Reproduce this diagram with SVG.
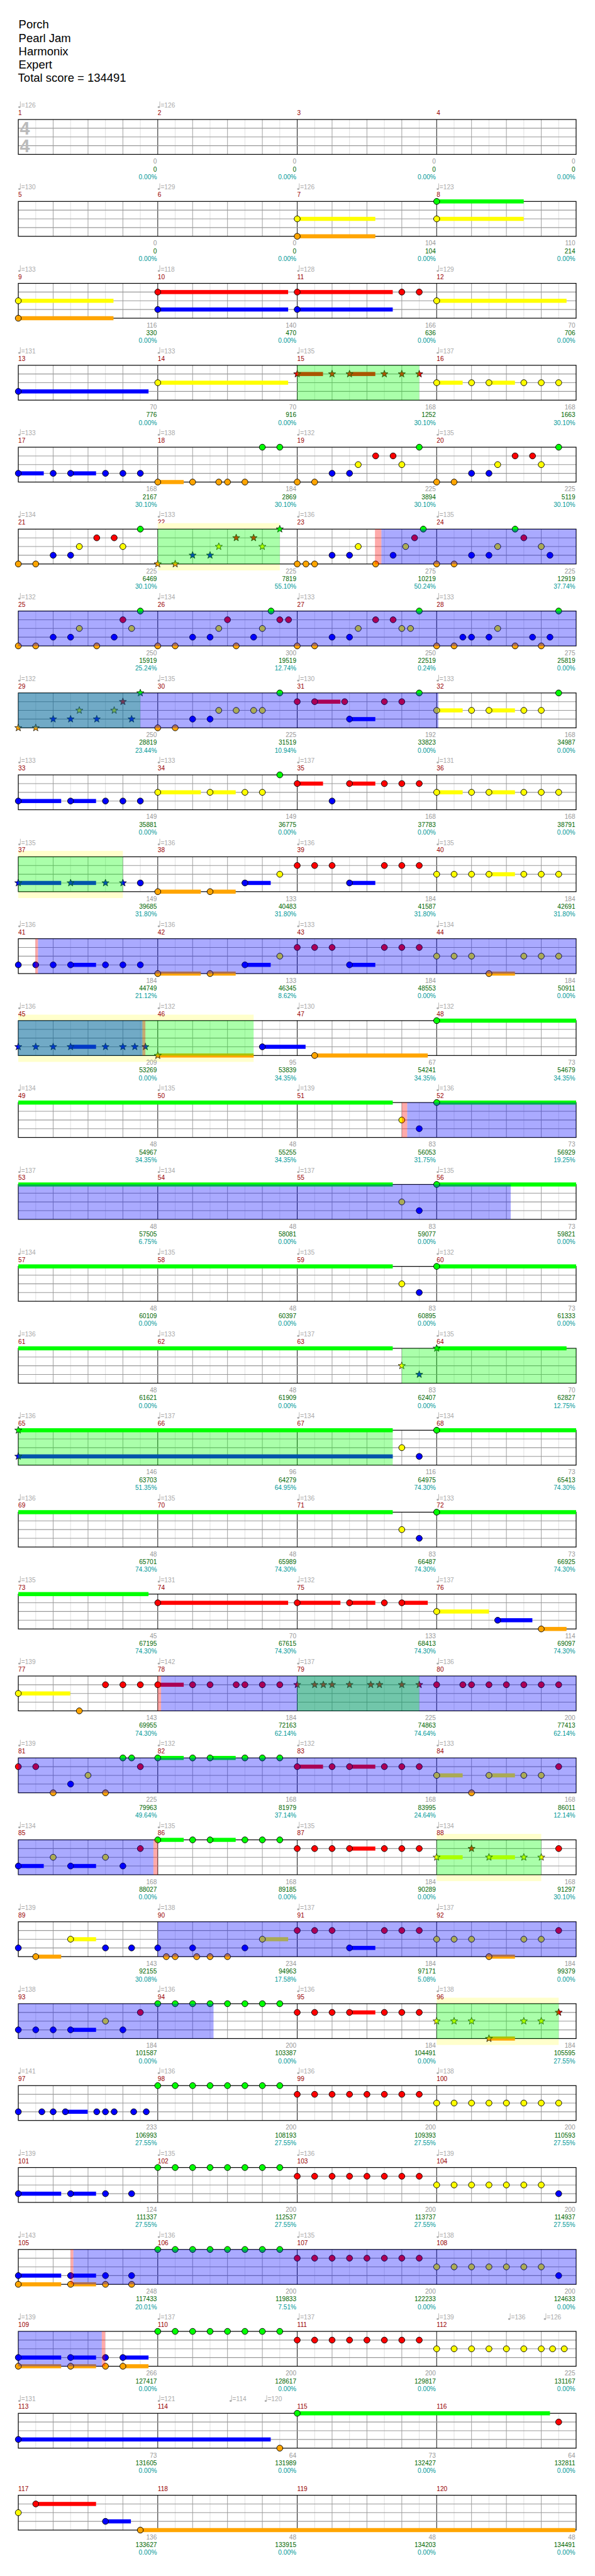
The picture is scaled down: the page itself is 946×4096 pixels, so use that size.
<svg xmlns="http://www.w3.org/2000/svg" xmlns:xlink="http://www.w3.org/1999/xlink" width="946" height="4096" viewBox="0 0 946 4096">
<style>
text{font-family:"Liberation Sans",Arial,sans-serif}
.h{font-size:20px;fill:#000}
.l text{font-size:11px}
.mn{fill:#900}
.tp{fill:#aaa}
.s{fill:#999;text-anchor:end}
.c{fill:#060;text-anchor:end}
.p{fill:#099;text-anchor:end}
circle{stroke:#000;stroke-width:1}
.st{stroke:#000;stroke-width:.8}
.G{fill:#0f0}.R{fill:#f00}.Y{fill:#ff0}.B{fill:#00f}.O{fill:#ffa500}
.ob{fill:#00f;fill-opacity:.333}.og{fill:#0f0;fill-opacity:.333}.or{fill:#f00;fill-opacity:.333}.fy{fill:#ffc}
</style>
<defs>
<g id="staff">
<rect width="960" height="60" fill="#fff"/>
<path d="M30 0V60M90 0V60M150 0V60M210 0V60M270 0V60M330 0V60M390 0V60M450 0V60M510 0V60M570 0V60M630 0V60M690 0V60M750 0V60M810 0V60M870 0V60M930 0V60" stroke="#ddd" stroke-width="1"/>
<path d="M60 0V60M120 0V60M180 0V60M300 0V60M360 0V60M420 0V60M540 0V60M600 0V60M660 0V60M780 0V60M840 0V60M900 0V60" stroke="#999" stroke-width="1"/>
<path d="M240 0V60M480 0V60M720 0V60" stroke="#000" stroke-width="1"/>
<path d="M0 15H960M0 30H960M0 45H960" stroke="#999" stroke-width="1.2"/>
<rect width="960" height="60" fill="none" stroke="#000" stroke-width="1.3"/>
</g>
<g id="tq"><ellipse cx="1.8" cy="-21.3" rx="1.9" ry="1.6" fill="#aaa"/><path d="M3.5 -21.5V-31" stroke="#aaa" stroke-width="0.9"/></g>
<polygon id="st" points="0,-6.5 1.59,-2.18 6.18,-2.01 2.57,0.83 3.82,5.26 0,2.7 -3.82,5.26 -2.57,0.83 -6.18,-2.01 -1.59,-2.18"/>
</defs>
<rect width="946" height="4096" fill="#fff"/>
<g transform="scale(0.92383)">
<g id="title" class="h">
<text class="h" x="32" y="49">Porch</text>
<text class="h" x="32" y="72">Pearl Jam</text>
<text class="h" x="32" y="95">Harmonix</text>
<text class="h" x="32" y="118">Expert</text>
<text class="h" x="31" y="141">Total score = 134491</text>
</g>

<g id="r1" transform="translate(31.5,205.7)">
<g class="l"><text class="mn" x="0" y="-7.6">1</text><text class="mn" x="240" y="-7.6">2</text><text class="mn" x="480" y="-7.6">3</text><text class="mn" x="720" y="-7.6">4</text>
<use href="#tq" x="0"/><text class="tp" x="5" y="-20.4">=126</text><use href="#tq" x="240"/><text class="tp" x="245" y="-20.4">=126</text>
<text class="s" x="238.5" y="76">0</text><text class="c" x="238.5" y="89.3">0</text><text class="p" x="238.5" y="102.6">0.00%</text>
<text class="s" x="478.5" y="76">0</text><text class="c" x="478.5" y="89.3">0</text><text class="p" x="478.5" y="102.6">0.00%</text>
<text class="s" x="718.5" y="76">0</text><text class="c" x="718.5" y="89.3">0</text><text class="p" x="718.5" y="102.6">0.00%</text>
<text class="s" x="958.5" y="76">0</text><text class="c" x="958.5" y="89.3">0</text><text class="p" x="958.5" y="102.6">0.00%</text></g>
<use href="#staff"/>
<text x="2.5" y="26" font-size="31" font-weight="bold" fill="#bbb">4</text><text x="2.5" y="56.6" font-size="31" font-weight="bold" fill="#bbb">4</text>
</g>

<g id="r2" transform="translate(31.5,346.7)">
<g class="l"><text class="mn" x="0" y="-7.6">5</text><text class="mn" x="240" y="-7.6">6</text><text class="mn" x="480" y="-7.6">7</text><text class="mn" x="720" y="-7.6">8</text>
<use href="#tq" x="0"/><text class="tp" x="5" y="-20.4">=130</text><use href="#tq" x="240"/><text class="tp" x="245" y="-20.4">=129</text><use href="#tq" x="480"/><text class="tp" x="485" y="-20.4">=126</text><use href="#tq" x="720"/><text class="tp" x="725" y="-20.4">=123</text>
<text class="s" x="238.5" y="76">0</text><text class="c" x="238.5" y="89.3">0</text><text class="p" x="238.5" y="102.6">0.00%</text>
<text class="s" x="478.5" y="76">0</text><text class="c" x="478.5" y="89.3">0</text><text class="p" x="478.5" y="102.6">0.00%</text>
<text class="s" x="718.5" y="76">104</text><text class="c" x="718.5" y="89.3">104</text><text class="p" x="718.5" y="102.6">0.00%</text>
<text class="s" x="958.5" y="76">110</text><text class="c" x="958.5" y="89.3">214</text><text class="p" x="958.5" y="102.6">0.00%</text></g>
<use href="#staff"/>
<rect class="G" x="720" y="-3.5" width="149.8" height="7"/><rect class="Y" x="480" y="26.5" width="134.4" height="7"/><rect class="Y" x="720" y="26.5" width="149.8" height="7"/><rect class="O" x="480" y="56.5" width="134.4" height="7"/>
<circle class="G" cx="720" cy="0" r="5.2"/><circle class="Y" cx="480" cy="30" r="5.2"/><circle class="Y" cx="720" cy="30" r="5.2"/><circle class="O" cx="480" cy="60" r="5.2"/>
</g>

<g id="r3" transform="translate(31.5,487.7)">
<g class="l"><text class="mn" x="0" y="-7.6">9</text><text class="mn" x="240" y="-7.6">10</text><text class="mn" x="480" y="-7.6">11</text><text class="mn" x="720" y="-7.6">12</text>
<use href="#tq" x="0"/><text class="tp" x="5" y="-20.4">=133</text><use href="#tq" x="240"/><text class="tp" x="245" y="-20.4">=118</text><use href="#tq" x="480"/><text class="tp" x="485" y="-20.4">=128</text><use href="#tq" x="720"/><text class="tp" x="725" y="-20.4">=129</text>
<text class="s" x="238.5" y="76">116</text><text class="c" x="238.5" y="89.3">330</text><text class="p" x="238.5" y="102.6">0.00%</text>
<text class="s" x="478.5" y="76">140</text><text class="c" x="478.5" y="89.3">470</text><text class="p" x="478.5" y="102.6">0.00%</text>
<text class="s" x="718.5" y="76">166</text><text class="c" x="718.5" y="89.3">636</text><text class="p" x="718.5" y="102.6">0.00%</text>
<text class="s" x="958.5" y="76">70</text><text class="c" x="958.5" y="89.3">706</text><text class="p" x="958.5" y="102.6">0.00%</text></g>
<use href="#staff"/>
<rect class="Y" x="0" y="26.5" width="163.8" height="7"/><rect class="O" x="0" y="56.5" width="163.8" height="7"/><rect class="R" x="240" y="11.5" width="224.4" height="7"/><rect class="B" x="240" y="41.5" width="224.4" height="7"/><rect class="R" x="480" y="11.5" width="164.4" height="7"/><rect class="B" x="480" y="41.5" width="164.4" height="7"/><rect class="Y" x="720" y="26.5" width="223.5" height="7"/>
<circle class="Y" cx="0" cy="30" r="5.2"/><circle class="O" cx="0" cy="60" r="5.2"/><circle class="R" cx="240" cy="15" r="5.2"/><circle class="B" cx="240" cy="45" r="5.2"/><circle class="R" cx="480" cy="15" r="5.2"/><circle class="B" cx="480" cy="45" r="5.2"/><circle class="R" cx="660" cy="15" r="5.2"/><circle class="R" cx="690" cy="15" r="5.2"/><circle class="Y" cx="720" cy="30" r="5.2"/>
</g>

<g id="r4" transform="translate(31.5,628.7)">
<g class="l"><text class="mn" x="0" y="-7.6">13</text><text class="mn" x="240" y="-7.6">14</text><text class="mn" x="480" y="-7.6">15</text><text class="mn" x="720" y="-7.6">16</text>
<use href="#tq" x="0"/><text class="tp" x="5" y="-20.4">=131</text><use href="#tq" x="240"/><text class="tp" x="245" y="-20.4">=133</text><use href="#tq" x="480"/><text class="tp" x="485" y="-20.4">=135</text><use href="#tq" x="720"/><text class="tp" x="725" y="-20.4">=137</text>
<text class="s" x="238.5" y="76">70</text><text class="c" x="238.5" y="89.3">776</text><text class="p" x="238.5" y="102.6">0.00%</text>
<text class="s" x="478.5" y="76">70</text><text class="c" x="478.5" y="89.3">916</text><text class="p" x="478.5" y="102.6">0.00%</text>
<text class="s" x="718.5" y="76">168</text><text class="c" x="718.5" y="89.3">1252</text><text class="p" x="718.5" y="102.6">30.10%</text>
<text class="s" x="958.5" y="76">168</text><text class="c" x="958.5" y="89.3">1663</text><text class="p" x="958.5" y="102.6">30.10%</text></g>
<use href="#staff"/>
<rect class="B" x="0" y="41.5" width="224.1" height="7"/><rect class="Y" x="240" y="26.5" width="224.4" height="7"/><rect class="R" x="480" y="11.5" width="44.4" height="7"/><rect class="R" x="570" y="11.5" width="44.4" height="7"/><rect class="Y" x="720" y="26.5" width="44.7" height="7"/><rect class="Y" x="810" y="26.5" width="44.7" height="7"/>
<circle class="B" cx="0" cy="45" r="5.2"/><circle class="Y" cx="240" cy="30" r="5.2"/>
<use href="#st" class="st R" x="480" y="15"/><use href="#st" class="st R" x="540" y="15"/><use href="#st" class="st R" x="570" y="15"/><use href="#st" class="st R" x="630" y="15"/><use href="#st" class="st R" x="660" y="15"/><use href="#st" class="st R" x="690" y="15"/>
<circle class="Y" cx="720" cy="30" r="5.2"/><circle class="Y" cx="780" cy="30" r="5.2"/><circle class="Y" cx="810" cy="30" r="5.2"/><circle class="Y" cx="870" cy="30" r="5.2"/><circle class="Y" cx="900" cy="30" r="5.2"/><circle class="Y" cx="930" cy="30" r="5.2"/>
<rect class="og" x="480" y="0" width="210" height="60"/>
</g>

<g id="r5" transform="translate(31.5,769.7)">
<g class="l"><text class="mn" x="0" y="-7.6">17</text><text class="mn" x="240" y="-7.6">18</text><text class="mn" x="480" y="-7.6">19</text><text class="mn" x="720" y="-7.6">20</text>
<use href="#tq" x="0"/><text class="tp" x="5" y="-20.4">=133</text><use href="#tq" x="240"/><text class="tp" x="245" y="-20.4">=138</text><use href="#tq" x="480"/><text class="tp" x="485" y="-20.4">=132</text><use href="#tq" x="720"/><text class="tp" x="725" y="-20.4">=135</text>
<text class="s" x="238.5" y="76">168</text><text class="c" x="238.5" y="89.3">2167</text><text class="p" x="238.5" y="102.6">30.10%</text>
<text class="s" x="478.5" y="76">184</text><text class="c" x="478.5" y="89.3">2869</text><text class="p" x="478.5" y="102.6">30.10%</text>
<text class="s" x="718.5" y="76">225</text><text class="c" x="718.5" y="89.3">3894</text><text class="p" x="718.5" y="102.6">30.10%</text>
<text class="s" x="958.5" y="76">225</text><text class="c" x="958.5" y="89.3">5119</text><text class="p" x="958.5" y="102.6">30.10%</text></g>
<use href="#staff"/>
<rect class="B" x="0" y="41.5" width="43.8" height="7"/><rect class="B" x="90" y="41.5" width="43.8" height="7"/><rect class="O" x="240" y="56.5" width="44.7" height="7"/>
<circle class="B" cx="0" cy="45" r="5.2"/><circle class="B" cx="60" cy="45" r="5.2"/><circle class="B" cx="90" cy="45" r="5.2"/><circle class="B" cx="150" cy="45" r="5.2"/><circle class="B" cx="180" cy="45" r="5.2"/><circle class="B" cx="210" cy="45" r="5.2"/>
<circle class="O" cx="240" cy="60" r="5.2"/><circle class="O" cx="300" cy="60" r="5.2"/><circle class="O" cx="345" cy="60" r="5.2"/><circle class="O" cx="360" cy="60" r="5.2"/><circle class="O" cx="390" cy="60" r="5.2"/><circle class="G" cx="420" cy="0" r="5.2"/><circle class="G" cx="450" cy="0" r="5.2"/>
<circle class="O" cx="480" cy="60" r="5.2"/><circle class="O" cx="510" cy="60" r="5.2"/><circle class="B" cx="540" cy="45" r="5.2"/><circle class="B" cx="570" cy="45" r="5.2"/><circle class="Y" cx="585" cy="30" r="5.2"/><circle class="R" cx="615" cy="15" r="5.2"/><circle class="R" cx="645" cy="15" r="5.2"/><circle class="Y" cx="660" cy="30" r="5.2"/><circle class="G" cx="690" cy="0" r="5.2"/>
<circle class="O" cx="720" cy="60" r="5.2"/><circle class="O" cx="750" cy="60" r="5.2"/><circle class="B" cx="780" cy="45" r="5.2"/><circle class="B" cx="810" cy="45" r="5.2"/><circle class="Y" cx="825" cy="30" r="5.2"/><circle class="R" cx="855" cy="15" r="5.2"/><circle class="R" cx="885" cy="15" r="5.2"/><circle class="Y" cx="900" cy="30" r="5.2"/><circle class="G" cx="930" cy="0" r="5.2"/>
</g>

<g id="r6" transform="translate(31.5,910.7)">
<g class="l"><text class="mn" x="0" y="-7.6">21</text><text class="mn" x="240" y="-7.6">22</text><text class="mn" x="480" y="-7.6">23</text><text class="mn" x="720" y="-7.6">24</text>
<use href="#tq" x="0"/><text class="tp" x="5" y="-20.4">=134</text><use href="#tq" x="240"/><text class="tp" x="245" y="-20.4">=133</text><use href="#tq" x="480"/><text class="tp" x="485" y="-20.4">=136</text><use href="#tq" x="720"/><text class="tp" x="725" y="-20.4">=135</text></g>
<rect class="fy" x="240" y="-10.3" width="210" height="81.3"/>
<g class="l">
<text class="s" x="238.5" y="76">225</text><text class="c" x="238.5" y="89.3">6469</text><text class="p" x="238.5" y="102.6">30.10%</text>
<text class="s" x="478.5" y="76">225</text><text class="c" x="478.5" y="89.3">7819</text><text class="p" x="478.5" y="102.6">55.10%</text>
<text class="s" x="718.5" y="76">275</text><text class="c" x="718.5" y="89.3">10219</text><text class="p" x="718.5" y="102.6">50.24%</text>
<text class="s" x="958.5" y="76">225</text><text class="c" x="958.5" y="89.3">12919</text><text class="p" x="958.5" y="102.6">37.74%</text></g>
<use href="#staff"/>
<circle class="O" cx="0" cy="60" r="5.2"/><circle class="O" cx="30" cy="60" r="5.2"/><circle class="B" cx="60" cy="45" r="5.2"/><circle class="B" cx="90" cy="45" r="5.2"/><circle class="Y" cx="105" cy="30" r="5.2"/><circle class="R" cx="135" cy="15" r="5.2"/><circle class="R" cx="165" cy="15" r="5.2"/><circle class="Y" cx="180" cy="30" r="5.2"/><circle class="G" cx="210" cy="0" r="5.2"/>
<use href="#st" class="st O" x="240" y="60"/><use href="#st" class="st O" x="270" y="60"/><use href="#st" class="st B" x="300" y="45"/><use href="#st" class="st B" x="330" y="45"/><use href="#st" class="st Y" x="345" y="30"/><use href="#st" class="st R" x="375" y="15"/><use href="#st" class="st R" x="405" y="15"/><use href="#st" class="st Y" x="420" y="30"/><use href="#st" class="st G" x="450" y="0"/>
<circle class="O" cx="480" cy="60" r="5.2"/><circle class="O" cx="495" cy="60" r="5.2"/><circle class="O" cx="510" cy="60" r="5.2"/><circle class="B" cx="540" cy="45" r="5.2"/><circle class="B" cx="570" cy="45" r="5.2"/><circle class="Y" cx="585" cy="30" r="5.2"/><circle class="O" cx="615" cy="60" r="5.2"/>
<circle class="B" cx="645" cy="45" r="5.2"/><circle class="Y" cx="666.6" cy="30" r="5.2"/><circle class="R" cx="682" cy="15" r="5.2"/><circle class="G" cx="697" cy="0" r="5.2"/>
<circle class="O" cx="720" cy="60" r="5.2"/><circle class="O" cx="750" cy="60" r="5.2"/><circle class="B" cx="780" cy="45" r="5.2"/><circle class="B" cx="810" cy="45" r="5.2"/><circle class="Y" cx="825" cy="30" r="5.2"/><circle class="G" cx="855" cy="0" r="5.2"/><circle class="R" cx="870" cy="15" r="5.2"/><circle class="Y" cx="900" cy="30" r="5.2"/><circle class="B" cx="915" cy="45" r="5.2"/>
<rect class="og" x="240" y="0" width="210" height="60"/><rect class="or" x="613.8" y="0" width="11.1" height="60"/><rect class="ob" x="624.9" y="0" width="335.1" height="60"/>
</g>

<g id="r7" transform="translate(31.5,1051.7)">
<g class="l"><text class="mn" x="0" y="-7.6">25</text><text class="mn" x="240" y="-7.6">26</text><text class="mn" x="480" y="-7.6">27</text><text class="mn" x="720" y="-7.6">28</text>
<use href="#tq" x="0"/><text class="tp" x="5" y="-20.4">=132</text><use href="#tq" x="240"/><text class="tp" x="245" y="-20.4">=134</text><use href="#tq" x="480"/><text class="tp" x="485" y="-20.4">=133</text><use href="#tq" x="720"/><text class="tp" x="725" y="-20.4">=133</text>
<text class="s" x="238.5" y="76">250</text><text class="c" x="238.5" y="89.3">15919</text><text class="p" x="238.5" y="102.6">25.24%</text>
<text class="s" x="478.5" y="76">300</text><text class="c" x="478.5" y="89.3">19519</text><text class="p" x="478.5" y="102.6">12.74%</text>
<text class="s" x="718.5" y="76">250</text><text class="c" x="718.5" y="89.3">22519</text><text class="p" x="718.5" y="102.6">0.24%</text>
<text class="s" x="958.5" y="76">275</text><text class="c" x="958.5" y="89.3">25819</text><text class="p" x="958.5" y="102.6">0.00%</text></g>
<use href="#staff"/>
<circle class="O" cx="0" cy="60" r="5.2"/><circle class="O" cx="30" cy="60" r="5.2"/><circle class="B" cx="60" cy="45" r="5.2"/><circle class="B" cx="90" cy="45" r="5.2"/><circle class="Y" cx="105" cy="30" r="5.2"/><circle class="O" cx="135" cy="60" r="5.2"/><circle class="B" cx="165" cy="45" r="5.2"/><circle class="R" cx="180" cy="15" r="5.2"/><circle class="Y" cx="195" cy="30" r="5.2"/><circle class="G" cx="210" cy="0" r="5.2"/>
<circle class="O" cx="240" cy="60" r="5.2"/><circle class="O" cx="270" cy="60" r="5.2"/><circle class="B" cx="300" cy="45" r="5.2"/><circle class="B" cx="330" cy="45" r="5.2"/><circle class="Y" cx="345" cy="30" r="5.2"/><circle class="R" cx="360" cy="15" r="5.2"/><circle class="O" cx="375" cy="60" r="5.2"/><circle class="B" cx="405" cy="45" r="5.2"/><circle class="Y" cx="420" cy="30" r="5.2"/><circle class="G" cx="435" cy="0" r="5.2"/><circle class="R" cx="450" cy="15" r="5.2"/><circle class="R" cx="465" cy="15" r="5.2"/>
<circle class="O" cx="480" cy="60" r="5.2"/><circle class="O" cx="510" cy="60" r="5.2"/><circle class="B" cx="540" cy="45" r="5.2"/><circle class="B" cx="570" cy="45" r="5.2"/><circle class="Y" cx="585" cy="30" r="5.2"/><circle class="R" cx="615" cy="15" r="5.2"/><circle class="R" cx="645" cy="15" r="5.2"/><circle class="Y" cx="660" cy="30" r="5.2"/><circle class="Y" cx="675" cy="30" r="5.2"/><circle class="G" cx="690" cy="0" r="5.2"/>
<circle class="O" cx="720" cy="60" r="5.2"/><circle class="O" cx="750" cy="60" r="5.2"/><circle class="B" cx="765" cy="45" r="5.2"/><circle class="B" cx="780" cy="45" r="5.2"/><circle class="B" cx="810" cy="45" r="5.2"/><circle class="Y" cx="825" cy="30" r="5.2"/><circle class="O" cx="855" cy="60" r="5.2"/><circle class="B" cx="885" cy="45" r="5.2"/><circle class="O" cx="900" cy="60" r="5.2"/><circle class="B" cx="915" cy="45" r="5.2"/><circle class="G" cx="930" cy="0" r="5.2"/>
<rect class="ob" x="0" y="0" width="960" height="60"/>
</g>

<g id="r8" transform="translate(31.5,1192.7)">
<g class="l"><text class="mn" x="0" y="-7.6">29</text><text class="mn" x="240" y="-7.6">30</text><text class="mn" x="480" y="-7.6">31</text><text class="mn" x="720" y="-7.6">32</text>
<use href="#tq" x="0"/><text class="tp" x="5" y="-20.4">=132</text><use href="#tq" x="240"/><text class="tp" x="245" y="-20.4">=135</text><use href="#tq" x="480"/><text class="tp" x="485" y="-20.4">=130</text><use href="#tq" x="720"/><text class="tp" x="725" y="-20.4">=133</text>
<text class="s" x="238.5" y="76">250</text><text class="c" x="238.5" y="89.3">28819</text><text class="p" x="238.5" y="102.6">23.44%</text>
<text class="s" x="478.5" y="76">225</text><text class="c" x="478.5" y="89.3">31519</text><text class="p" x="478.5" y="102.6">10.94%</text>
<text class="s" x="718.5" y="76">192</text><text class="c" x="718.5" y="89.3">33823</text><text class="p" x="718.5" y="102.6">0.00%</text>
<text class="s" x="958.5" y="76">168</text><text class="c" x="958.5" y="89.3">34987</text><text class="p" x="958.5" y="102.6">0.00%</text></g>
<use href="#staff"/>
<rect class="R" x="510" y="11.5" width="44.4" height="7"/><rect class="B" x="570" y="41.5" width="44.4" height="7"/><rect class="Y" x="720" y="26.5" width="44.7" height="7"/><rect class="Y" x="810" y="26.5" width="44.7" height="7"/>
<use href="#st" class="st O" x="0" y="60"/><use href="#st" class="st O" x="30" y="60"/><use href="#st" class="st B" x="60" y="45"/><use href="#st" class="st B" x="90" y="45"/><use href="#st" class="st Y" x="105" y="30"/><use href="#st" class="st B" x="135" y="45"/><use href="#st" class="st Y" x="165" y="30"/><use href="#st" class="st R" x="180" y="15"/><use href="#st" class="st B" x="195" y="45"/><use href="#st" class="st G" x="210" y="0"/>
<circle class="O" cx="240" cy="60" r="5.2"/><circle class="O" cx="270" cy="60" r="5.2"/><circle class="B" cx="300" cy="45" r="5.2"/><circle class="B" cx="330" cy="45" r="5.2"/><circle class="Y" cx="345" cy="30" r="5.2"/><circle class="Y" cx="375" cy="30" r="5.2"/><circle class="Y" cx="405" cy="30" r="5.2"/><circle class="Y" cx="420" cy="30" r="5.2"/><circle class="G" cx="450" cy="0" r="5.2"/>
<circle class="R" cx="480" cy="15" r="5.2"/><circle class="R" cx="510" cy="15" r="5.2"/><circle class="R" cx="561.6" cy="15" r="5.2"/><circle class="B" cx="570" cy="45" r="5.2"/><circle class="R" cx="630" cy="15" r="5.2"/><circle class="R" cx="660" cy="15" r="5.2"/><circle class="G" cx="690" cy="0" r="5.2"/>
<circle class="Y" cx="720" cy="30" r="5.2"/><circle class="Y" cx="780" cy="30" r="5.2"/><circle class="Y" cx="810" cy="30" r="5.2"/><circle class="Y" cx="870" cy="30" r="5.2"/><circle class="Y" cx="900" cy="30" r="5.2"/><circle class="G" cx="930" cy="0" r="5.2"/>
<rect class="og" x="0" y="0" width="210" height="60"/><rect class="ob" x="0" y="0" width="723" height="60"/>
</g>

<g id="r9" transform="translate(31.5,1333.7)">
<g class="l"><text class="mn" x="0" y="-7.6">33</text><text class="mn" x="240" y="-7.6">34</text><text class="mn" x="480" y="-7.6">35</text><text class="mn" x="720" y="-7.6">36</text>
<use href="#tq" x="0"/><text class="tp" x="5" y="-20.4">=133</text><use href="#tq" x="240"/><text class="tp" x="245" y="-20.4">=133</text><use href="#tq" x="480"/><text class="tp" x="485" y="-20.4">=137</text><use href="#tq" x="720"/><text class="tp" x="725" y="-20.4">=131</text>
<text class="s" x="238.5" y="76">149</text><text class="c" x="238.5" y="89.3">35881</text><text class="p" x="238.5" y="102.6">0.00%</text>
<text class="s" x="478.5" y="76">149</text><text class="c" x="478.5" y="89.3">36775</text><text class="p" x="478.5" y="102.6">0.00%</text>
<text class="s" x="718.5" y="76">168</text><text class="c" x="718.5" y="89.3">37783</text><text class="p" x="718.5" y="102.6">0.00%</text>
<text class="s" x="958.5" y="76">168</text><text class="c" x="958.5" y="89.3">38791</text><text class="p" x="958.5" y="102.6">0.00%</text></g>
<use href="#staff"/>
<rect class="B" x="0" y="41.5" width="73.8" height="7"/><rect class="B" x="90" y="41.5" width="43.8" height="7"/><rect class="Y" x="240" y="26.5" width="74.1" height="7"/><rect class="Y" x="330" y="26.5" width="44.1" height="7"/><rect class="R" x="480" y="11.5" width="44.4" height="7"/><rect class="R" x="570" y="11.5" width="44.4" height="7"/><rect class="Y" x="720" y="26.5" width="44.7" height="7"/><rect class="Y" x="810" y="26.5" width="44.7" height="7"/>
<circle class="B" cx="0" cy="45" r="5.2"/><circle class="B" cx="90" cy="45" r="5.2"/><circle class="B" cx="150" cy="45" r="5.2"/><circle class="B" cx="180" cy="45" r="5.2"/><circle class="B" cx="210" cy="45" r="5.2"/>
<circle class="Y" cx="240" cy="30" r="5.2"/><circle class="Y" cx="330" cy="30" r="5.2"/><circle class="Y" cx="390" cy="30" r="5.2"/><circle class="Y" cx="420" cy="30" r="5.2"/><circle class="G" cx="450" cy="0" r="5.2"/>
<circle class="R" cx="480" cy="15" r="5.2"/><circle class="B" cx="540" cy="45" r="5.2"/><circle class="R" cx="570" cy="15" r="5.2"/><circle class="R" cx="630" cy="15" r="5.2"/><circle class="R" cx="660" cy="15" r="5.2"/><circle class="R" cx="690" cy="15" r="5.2"/>
<circle class="Y" cx="720" cy="30" r="5.2"/><circle class="Y" cx="780" cy="30" r="5.2"/><circle class="Y" cx="810" cy="30" r="5.2"/><circle class="Y" cx="870" cy="30" r="5.2"/><circle class="Y" cx="900" cy="30" r="5.2"/><circle class="Y" cx="930" cy="30" r="5.2"/>
</g>

<g id="r10" transform="translate(31.5,1474.7)">
<rect class="fy" x="0" y="-10.3" width="180" height="81.3"/>
<g class="l"><text class="mn" x="0" y="-7.6">37</text><text class="mn" x="240" y="-7.6">38</text><text class="mn" x="480" y="-7.6">39</text><text class="mn" x="720" y="-7.6">40</text>
<use href="#tq" x="0"/><text class="tp" x="5" y="-20.4">=135</text><use href="#tq" x="240"/><text class="tp" x="245" y="-20.4">=136</text><use href="#tq" x="480"/><text class="tp" x="485" y="-20.4">=136</text><use href="#tq" x="720"/><text class="tp" x="725" y="-20.4">=135</text>
<text class="s" x="238.5" y="76">149</text><text class="c" x="238.5" y="89.3">39685</text><text class="p" x="238.5" y="102.6">31.80%</text>
<text class="s" x="478.5" y="76">133</text><text class="c" x="478.5" y="89.3">40483</text><text class="p" x="478.5" y="102.6">31.80%</text>
<text class="s" x="718.5" y="76">184</text><text class="c" x="718.5" y="89.3">41587</text><text class="p" x="718.5" y="102.6">31.80%</text>
<text class="s" x="958.5" y="76">184</text><text class="c" x="958.5" y="89.3">42691</text><text class="p" x="958.5" y="102.6">31.80%</text></g>
<use href="#staff"/>
<rect class="B" x="0" y="41.5" width="73.8" height="7"/><rect class="B" x="90" y="41.5" width="43.8" height="7"/><rect class="O" x="240" y="56.5" width="74.1" height="7"/><rect class="O" x="330" y="56.5" width="44.1" height="7"/><rect class="B" x="390" y="41.5" width="44.4" height="7"/><rect class="B" x="570" y="41.5" width="44.4" height="7"/><rect class="Y" x="810" y="26.5" width="44.7" height="7"/>
<use href="#st" class="st B" x="0" y="45"/><use href="#st" class="st B" x="90" y="45"/><use href="#st" class="st B" x="150" y="45"/><use href="#st" class="st B" x="180" y="45"/>
<circle class="B" cx="210" cy="45" r="5.2"/><circle class="O" cx="240" cy="60" r="5.2"/><circle class="O" cx="330" cy="60" r="5.2"/><circle class="B" cx="390" cy="45" r="5.2"/><circle class="Y" cx="450" cy="30" r="5.2"/>
<circle class="R" cx="480" cy="15" r="5.2"/><circle class="R" cx="510" cy="15" r="5.2"/><circle class="R" cx="540" cy="15" r="5.2"/><circle class="B" cx="570" cy="45" r="5.2"/><circle class="R" cx="630" cy="15" r="5.2"/><circle class="R" cx="660" cy="15" r="5.2"/><circle class="R" cx="690" cy="15" r="5.2"/>
<circle class="Y" cx="720" cy="30" r="5.2"/><circle class="Y" cx="750" cy="30" r="5.2"/><circle class="Y" cx="780" cy="30" r="5.2"/><circle class="Y" cx="810" cy="30" r="5.2"/><circle class="Y" cx="870" cy="30" r="5.2"/><circle class="Y" cx="900" cy="30" r="5.2"/><circle class="Y" cx="930" cy="30" r="5.2"/>
<rect class="og" x="0" y="0" width="180" height="60"/>
</g>

<g id="r11" transform="translate(31.5,1615.7)">
<g class="l"><text class="mn" x="0" y="-7.6">41</text><text class="mn" x="240" y="-7.6">42</text><text class="mn" x="480" y="-7.6">43</text><text class="mn" x="720" y="-7.6">44</text>
<use href="#tq" x="0"/><text class="tp" x="5" y="-20.4">=136</text><use href="#tq" x="240"/><text class="tp" x="245" y="-20.4">=136</text><use href="#tq" x="480"/><text class="tp" x="485" y="-20.4">=133</text><use href="#tq" x="720"/><text class="tp" x="725" y="-20.4">=134</text>
<text class="s" x="238.5" y="76">184</text><text class="c" x="238.5" y="89.3">44749</text><text class="p" x="238.5" y="102.6">21.12%</text>
<text class="s" x="478.5" y="76">133</text><text class="c" x="478.5" y="89.3">46345</text><text class="p" x="478.5" y="102.6">8.62%</text>
<text class="s" x="718.5" y="76">184</text><text class="c" x="718.5" y="89.3">48553</text><text class="p" x="718.5" y="102.6">0.00%</text>
<text class="s" x="958.5" y="76">184</text><text class="c" x="958.5" y="89.3">50911</text><text class="p" x="958.5" y="102.6">0.00%</text></g>
<use href="#staff"/>
<rect class="B" x="90" y="41.5" width="43.8" height="7"/><rect class="O" x="240" y="56.5" width="74.1" height="7"/><rect class="O" x="330" y="56.5" width="44.1" height="7"/><rect class="B" x="390" y="41.5" width="44.4" height="7"/><rect class="B" x="570" y="41.5" width="44.4" height="7"/><rect class="O" x="810" y="56.5" width="44.7" height="7"/>
<circle class="B" cx="0" cy="45" r="5.2"/><circle class="B" cx="30" cy="45" r="5.2"/><circle class="B" cx="60" cy="45" r="5.2"/><circle class="B" cx="90" cy="45" r="5.2"/><circle class="B" cx="150" cy="45" r="5.2"/><circle class="B" cx="180" cy="45" r="5.2"/><circle class="B" cx="210" cy="45" r="5.2"/>
<circle class="O" cx="240" cy="60" r="5.2"/><circle class="O" cx="330" cy="60" r="5.2"/><circle class="B" cx="390" cy="45" r="5.2"/><circle class="Y" cx="450" cy="30" r="5.2"/>
<circle class="R" cx="480" cy="15" r="5.2"/><circle class="R" cx="510" cy="15" r="5.2"/><circle class="R" cx="540" cy="15" r="5.2"/><circle class="B" cx="570" cy="45" r="5.2"/><circle class="R" cx="630" cy="15" r="5.2"/><circle class="R" cx="660" cy="15" r="5.2"/><circle class="R" cx="690" cy="15" r="5.2"/>
<circle class="Y" cx="720" cy="30" r="5.2"/><circle class="Y" cx="750" cy="30" r="5.2"/><circle class="Y" cx="780" cy="30" r="5.2"/><circle class="O" cx="810" cy="60" r="5.2"/><circle class="Y" cx="870" cy="30" r="5.2"/><circle class="Y" cx="900" cy="30" r="5.2"/><circle class="Y" cx="930" cy="30" r="5.2"/>
<rect class="or" x="29.4" y="0" width="4.5" height="60"/><rect class="ob" x="33.9" y="0" width="926.1" height="60"/>
</g>

<g id="r12" transform="translate(31.5,1756.7)">
<rect class="fy" x="0" y="-10.3" width="405" height="81.3"/>
<g class="l"><text class="mn" x="0" y="-7.6">45</text><text class="mn" x="240" y="-7.6">46</text><text class="mn" x="480" y="-7.6">47</text><text class="mn" x="720" y="-7.6">48</text>
<use href="#tq" x="0"/><text class="tp" x="5" y="-20.4">=136</text><use href="#tq" x="240"/><text class="tp" x="245" y="-20.4">=132</text><use href="#tq" x="480"/><text class="tp" x="485" y="-20.4">=130</text><use href="#tq" x="720"/><text class="tp" x="725" y="-20.4">=132</text>
<text class="s" x="238.5" y="76">209</text><text class="c" x="238.5" y="89.3">53269</text><text class="p" x="238.5" y="102.6">0.00%</text>
<text class="s" x="478.5" y="76">95</text><text class="c" x="478.5" y="89.3">53839</text><text class="p" x="478.5" y="102.6">34.35%</text>
<text class="s" x="718.5" y="76">67</text><text class="c" x="718.5" y="89.3">54241</text><text class="p" x="718.5" y="102.6">34.35%</text>
<text class="s" x="958.5" y="76">73</text><text class="c" x="958.5" y="89.3">54679</text><text class="p" x="958.5" y="102.6">34.35%</text></g>
<use href="#staff"/>
<rect class="B" x="90" y="41.5" width="43.8" height="7"/><rect class="O" x="240" y="56.5" width="165" height="7"/><rect class="B" x="420" y="41.5" width="74.4" height="7"/><rect class="O" x="510" y="56.5" width="194.7" height="7"/><rect class="G" x="720" y="-3.5" width="240" height="7"/>
<use href="#st" class="st B" x="0" y="45"/><use href="#st" class="st B" x="30" y="45"/><use href="#st" class="st B" x="60" y="45"/><use href="#st" class="st B" x="90" y="45"/><use href="#st" class="st B" x="150" y="45"/><use href="#st" class="st B" x="180" y="45"/><use href="#st" class="st B" x="200.5" y="45"/><use href="#st" class="st B" x="218.7" y="45"/><use href="#st" class="st O" x="240" y="60"/>
<circle class="B" cx="420" cy="45" r="5.2"/><circle class="O" cx="510" cy="60" r="5.2"/><circle class="G" cx="720" cy="0" r="5.2"/>
<rect class="og" x="0" y="0" width="405" height="60"/><rect class="ob" x="0" y="0" width="213.6" height="60"/><rect class="or" x="213.6" y="0" width="5.1" height="60"/>
</g>

<g id="r13" transform="translate(31.5,1897.7)">
<g class="l"><text class="mn" x="0" y="-7.6">49</text><text class="mn" x="240" y="-7.6">50</text><text class="mn" x="480" y="-7.6">51</text><text class="mn" x="720" y="-7.6">52</text>
<use href="#tq" x="0"/><text class="tp" x="5" y="-20.4">=134</text><use href="#tq" x="240"/><text class="tp" x="245" y="-20.4">=135</text><use href="#tq" x="480"/><text class="tp" x="485" y="-20.4">=139</text><use href="#tq" x="720"/><text class="tp" x="725" y="-20.4">=136</text>
<text class="s" x="238.5" y="76">48</text><text class="c" x="238.5" y="89.3">54967</text><text class="p" x="238.5" y="102.6">34.35%</text>
<text class="s" x="478.5" y="76">48</text><text class="c" x="478.5" y="89.3">55255</text><text class="p" x="478.5" y="102.6">34.35%</text>
<text class="s" x="718.5" y="76">83</text><text class="c" x="718.5" y="89.3">56053</text><text class="p" x="718.5" y="102.6">31.75%</text>
<text class="s" x="958.5" y="76">73</text><text class="c" x="958.5" y="89.3">56929</text><text class="p" x="958.5" y="102.6">19.25%</text></g>
<use href="#staff"/>
<rect class="G" x="0" y="-3.5" width="644.4" height="7"/><rect class="G" x="720" y="-3.5" width="240" height="7"/>
<circle class="Y" cx="660" cy="30" r="5.2"/><circle class="B" cx="690" cy="45" r="5.2"/><circle class="G" cx="720" cy="0" r="5.2"/>
<rect class="or" x="660" y="0" width="9.3" height="60"/><rect class="ob" x="669.3" y="0" width="290.7" height="60"/>
</g>

<g id="r14" transform="translate(31.5,2038.7)">
<g class="l"><text class="mn" x="0" y="-7.6">53</text><text class="mn" x="240" y="-7.6">54</text><text class="mn" x="480" y="-7.6">55</text><text class="mn" x="720" y="-7.6">56</text>
<use href="#tq" x="0"/><text class="tp" x="5" y="-20.4">=137</text><use href="#tq" x="240"/><text class="tp" x="245" y="-20.4">=134</text><use href="#tq" x="480"/><text class="tp" x="485" y="-20.4">=137</text><use href="#tq" x="720"/><text class="tp" x="725" y="-20.4">=135</text>
<text class="s" x="238.5" y="76">48</text><text class="c" x="238.5" y="89.3">57505</text><text class="p" x="238.5" y="102.6">6.75%</text>
<text class="s" x="478.5" y="76">48</text><text class="c" x="478.5" y="89.3">58081</text><text class="p" x="478.5" y="102.6">0.00%</text>
<text class="s" x="718.5" y="76">83</text><text class="c" x="718.5" y="89.3">59077</text><text class="p" x="718.5" y="102.6">0.00%</text>
<text class="s" x="958.5" y="76">73</text><text class="c" x="958.5" y="89.3">59821</text><text class="p" x="958.5" y="102.6">0.00%</text></g>
<use href="#staff"/>
<rect class="G" x="0" y="-3.5" width="644.4" height="7"/><rect class="G" x="720" y="-3.5" width="240" height="7"/>
<circle class="Y" cx="660" cy="30" r="5.2"/><circle class="B" cx="690" cy="45" r="5.2"/><circle class="G" cx="720" cy="0" r="5.2"/>
<rect class="ob" x="0" y="0" width="847.5" height="60"/>
</g>

<g id="r15" transform="translate(31.5,2179.7)">
<g class="l"><text class="mn" x="0" y="-7.6">57</text><text class="mn" x="240" y="-7.6">58</text><text class="mn" x="480" y="-7.6">59</text><text class="mn" x="720" y="-7.6">60</text>
<use href="#tq" x="0"/><text class="tp" x="5" y="-20.4">=134</text><use href="#tq" x="240"/><text class="tp" x="245" y="-20.4">=135</text><use href="#tq" x="480"/><text class="tp" x="485" y="-20.4">=135</text><use href="#tq" x="720"/><text class="tp" x="725" y="-20.4">=132</text>
<text class="s" x="238.5" y="76">48</text><text class="c" x="238.5" y="89.3">60109</text><text class="p" x="238.5" y="102.6">0.00%</text>
<text class="s" x="478.5" y="76">48</text><text class="c" x="478.5" y="89.3">60397</text><text class="p" x="478.5" y="102.6">0.00%</text>
<text class="s" x="718.5" y="76">83</text><text class="c" x="718.5" y="89.3">60895</text><text class="p" x="718.5" y="102.6">0.00%</text>
<text class="s" x="958.5" y="76">73</text><text class="c" x="958.5" y="89.3">61333</text><text class="p" x="958.5" y="102.6">0.00%</text></g>
<use href="#staff"/>
<rect class="G" x="0" y="-3.5" width="644.4" height="7"/><rect class="G" x="720" y="-3.5" width="240" height="7"/>
<circle class="Y" cx="660" cy="30" r="5.2"/><circle class="B" cx="690" cy="45" r="5.2"/><circle class="G" cx="720" cy="0" r="5.2"/>
</g>

<g id="r16" transform="translate(31.5,2320.7)">
<g class="l"><text class="mn" x="0" y="-7.6">61</text><text class="mn" x="240" y="-7.6">62</text><text class="mn" x="480" y="-7.6">63</text><text class="mn" x="720" y="-7.6">64</text>
<use href="#tq" x="0"/><text class="tp" x="5" y="-20.4">=136</text><use href="#tq" x="240"/><text class="tp" x="245" y="-20.4">=133</text><use href="#tq" x="480"/><text class="tp" x="485" y="-20.4">=137</text><use href="#tq" x="720"/><text class="tp" x="725" y="-20.4">=135</text>
<text class="s" x="238.5" y="76">48</text><text class="c" x="238.5" y="89.3">61621</text><text class="p" x="238.5" y="102.6">0.00%</text>
<text class="s" x="478.5" y="76">48</text><text class="c" x="478.5" y="89.3">61909</text><text class="p" x="478.5" y="102.6">0.00%</text>
<text class="s" x="718.5" y="76">83</text><text class="c" x="718.5" y="89.3">62407</text><text class="p" x="718.5" y="102.6">0.00%</text>
<text class="s" x="958.5" y="76">70</text><text class="c" x="958.5" y="89.3">62827</text><text class="p" x="958.5" y="102.6">12.75%</text></g>
<use href="#staff"/>
<rect class="G" x="0" y="-3.5" width="644.4" height="7"/><rect class="G" x="720" y="-3.5" width="223.5" height="7"/>
<use href="#st" class="st Y" x="660" y="30"/><use href="#st" class="st B" x="690" y="45"/><use href="#st" class="st G" x="720" y="0"/>
<rect class="og" x="660" y="0" width="300" height="60"/>
</g>

<g id="r17" transform="translate(31.5,2461.7)">
<g class="l"><text class="mn" x="0" y="-7.6">65</text><text class="mn" x="240" y="-7.6">66</text><text class="mn" x="480" y="-7.6">67</text><text class="mn" x="720" y="-7.6">68</text>
<use href="#tq" x="0"/><text class="tp" x="5" y="-20.4">=136</text><use href="#tq" x="240"/><text class="tp" x="245" y="-20.4">=137</text><use href="#tq" x="480"/><text class="tp" x="485" y="-20.4">=134</text><use href="#tq" x="720"/><text class="tp" x="725" y="-20.4">=134</text>
<text class="s" x="238.5" y="76">146</text><text class="c" x="238.5" y="89.3">63703</text><text class="p" x="238.5" y="102.6">51.35%</text>
<text class="s" x="478.5" y="76">96</text><text class="c" x="478.5" y="89.3">64279</text><text class="p" x="478.5" y="102.6">64.95%</text>
<text class="s" x="718.5" y="76">116</text><text class="c" x="718.5" y="89.3">64975</text><text class="p" x="718.5" y="102.6">74.30%</text>
<text class="s" x="958.5" y="76">73</text><text class="c" x="958.5" y="89.3">65413</text><text class="p" x="958.5" y="102.6">74.30%</text></g>
<use href="#staff"/>
<rect class="G" x="0" y="-3.5" width="644.4" height="7"/><rect class="B" x="0" y="41.5" width="644.4" height="7"/><rect class="G" x="720" y="-3.5" width="240" height="7"/>
<use href="#st" class="st G" x="0" y="0"/><use href="#st" class="st B" x="0" y="45"/>
<circle class="Y" cx="660" cy="30" r="5.2"/><circle class="B" cx="690" cy="45" r="5.2"/><circle class="G" cx="720" cy="0" r="5.2"/>
<rect class="og" x="0" y="0" width="644.4" height="60"/>
</g>

<g id="r18" transform="translate(31.5,2602.7)">
<g class="l"><text class="mn" x="0" y="-7.6">69</text><text class="mn" x="240" y="-7.6">70</text><text class="mn" x="480" y="-7.6">71</text><text class="mn" x="720" y="-7.6">72</text>
<use href="#tq" x="0"/><text class="tp" x="5" y="-20.4">=136</text><use href="#tq" x="240"/><text class="tp" x="245" y="-20.4">=135</text><use href="#tq" x="480"/><text class="tp" x="485" y="-20.4">=136</text><use href="#tq" x="720"/><text class="tp" x="725" y="-20.4">=133</text>
<text class="s" x="238.5" y="76">48</text><text class="c" x="238.5" y="89.3">65701</text><text class="p" x="238.5" y="102.6">74.30%</text>
<text class="s" x="478.5" y="76">48</text><text class="c" x="478.5" y="89.3">65989</text><text class="p" x="478.5" y="102.6">74.30%</text>
<text class="s" x="718.5" y="76">83</text><text class="c" x="718.5" y="89.3">66487</text><text class="p" x="718.5" y="102.6">74.30%</text>
<text class="s" x="958.5" y="76">73</text><text class="c" x="958.5" y="89.3">66925</text><text class="p" x="958.5" y="102.6">74.30%</text></g>
<use href="#staff"/>
<rect class="G" x="0" y="-3.5" width="644.4" height="7"/><rect class="G" x="720" y="-3.5" width="240" height="7"/>
<circle class="Y" cx="660" cy="30" r="5.2"/><circle class="B" cx="690" cy="45" r="5.2"/><circle class="G" cx="720" cy="0" r="5.2"/>
</g>

<g id="r19" transform="translate(31.5,2743.7)">
<g class="l"><text class="mn" x="0" y="-7.6">73</text><text class="mn" x="240" y="-7.6">74</text><text class="mn" x="480" y="-7.6">75</text><text class="mn" x="720" y="-7.6">76</text>
<use href="#tq" x="0"/><text class="tp" x="5" y="-20.4">=135</text><use href="#tq" x="240"/><text class="tp" x="245" y="-20.4">=131</text><use href="#tq" x="480"/><text class="tp" x="485" y="-20.4">=132</text><use href="#tq" x="720"/><text class="tp" x="725" y="-20.4">=137</text>
<text class="s" x="238.5" y="76">45</text><text class="c" x="238.5" y="89.3">67195</text><text class="p" x="238.5" y="102.6">74.30%</text>
<text class="s" x="478.5" y="76">70</text><text class="c" x="478.5" y="89.3">67615</text><text class="p" x="478.5" y="102.6">74.30%</text>
<text class="s" x="718.5" y="76">133</text><text class="c" x="718.5" y="89.3">68413</text><text class="p" x="718.5" y="102.6">74.30%</text>
<text class="s" x="958.5" y="76">114</text><text class="c" x="958.5" y="89.3">69097</text><text class="p" x="958.5" y="102.6">74.30%</text></g>
<use href="#staff"/>
<rect class="G" x="0" y="-3.5" width="224.1" height="7"/><rect class="R" x="240" y="11.5" width="224.4" height="7"/><rect class="R" x="480" y="11.5" width="74.4" height="7"/><rect class="R" x="570" y="11.5" width="44.4" height="7"/><rect class="R" x="660" y="11.5" width="44.7" height="7"/><rect class="Y" x="720" y="26.5" width="90" height="7"/><rect class="B" x="825" y="41.5" width="59.7" height="7"/><rect class="O" x="900" y="56.5" width="43.5" height="7"/>
<circle class="R" cx="240" cy="15" r="5.2"/><circle class="R" cx="480" cy="15" r="5.2"/><circle class="R" cx="570" cy="15" r="5.2"/><circle class="R" cx="630" cy="15" r="5.2"/><circle class="R" cx="660" cy="15" r="5.2"/><circle class="Y" cx="720" cy="30" r="5.2"/><circle class="B" cx="825" cy="45" r="5.2"/><circle class="O" cx="900" cy="60" r="5.2"/>
</g>

<g id="r20" transform="translate(31.5,2884.7)">
<g class="l"><text class="mn" x="0" y="-7.6">77</text><text class="mn" x="240" y="-7.6">78</text><text class="mn" x="480" y="-7.6">79</text><text class="mn" x="720" y="-7.6">80</text>
<use href="#tq" x="0"/><text class="tp" x="5" y="-20.4">=139</text><use href="#tq" x="240"/><text class="tp" x="245" y="-20.4">=142</text><use href="#tq" x="480"/><text class="tp" x="485" y="-20.4">=137</text><use href="#tq" x="720"/><text class="tp" x="725" y="-20.4">=136</text>
<text class="s" x="238.5" y="76">143</text><text class="c" x="238.5" y="89.3">69955</text><text class="p" x="238.5" y="102.6">74.30%</text>
<text class="s" x="478.5" y="76">184</text><text class="c" x="478.5" y="89.3">72163</text><text class="p" x="478.5" y="102.6">62.14%</text>
<text class="s" x="718.5" y="76">225</text><text class="c" x="718.5" y="89.3">74863</text><text class="p" x="718.5" y="102.6">74.64%</text>
<text class="s" x="958.5" y="76">200</text><text class="c" x="958.5" y="89.3">77413</text><text class="p" x="958.5" y="102.6">62.14%</text></g>
<use href="#staff"/>
<rect class="Y" x="0" y="26.5" width="89.4" height="7"/><rect class="R" x="240" y="11.5" width="44.7" height="7"/>
<circle class="Y" cx="0" cy="30" r="5.2"/><circle class="O" cx="105" cy="60" r="5.2"/><circle class="R" cx="150" cy="15" r="5.2"/><circle class="R" cx="180" cy="15" r="5.2"/><circle class="R" cx="210" cy="15" r="5.2"/><circle class="R" cx="240" cy="15" r="5.2"/>
<circle class="R" cx="300" cy="15" r="5.2"/><circle class="R" cx="330" cy="15" r="5.2"/><circle class="R" cx="375" cy="15" r="5.2"/><circle class="R" cx="390" cy="15" r="5.2"/><circle class="R" cx="420" cy="15" r="5.2"/><circle class="R" cx="450" cy="15" r="5.2"/>
<use href="#st" class="st R" x="480" y="15"/><use href="#st" class="st R" x="510" y="15"/><use href="#st" class="st R" x="525" y="15"/><use href="#st" class="st R" x="540" y="15"/><use href="#st" class="st R" x="570" y="15"/><use href="#st" class="st R" x="606.6" y="15"/><use href="#st" class="st R" x="621.6" y="15"/><use href="#st" class="st R" x="660" y="15"/><use href="#st" class="st R" x="690" y="15"/>
<circle class="R" cx="720" cy="15" r="5.2"/><circle class="R" cx="765" cy="15" r="5.2"/><circle class="R" cx="780" cy="15" r="5.2"/><circle class="R" cx="810" cy="15" r="5.2"/><circle class="R" cx="840" cy="15" r="5.2"/><circle class="R" cx="870" cy="15" r="5.2"/><circle class="R" cx="900" cy="15" r="5.2"/><circle class="R" cx="930" cy="15" r="5.2"/>
<rect class="or" x="240" y="0" width="5.7" height="60"/><rect class="ob" x="245.7" y="0" width="714.3" height="60"/><rect class="og" x="480" y="0" width="210" height="60"/>
</g>

<g id="r21" transform="translate(31.5,3025.7)">
<g class="l"><text class="mn" x="0" y="-7.6">81</text><text class="mn" x="240" y="-7.6">82</text><text class="mn" x="480" y="-7.6">83</text><text class="mn" x="720" y="-7.6">84</text>
<use href="#tq" x="0"/><text class="tp" x="5" y="-20.4">=139</text><use href="#tq" x="240"/><text class="tp" x="245" y="-20.4">=132</text><use href="#tq" x="480"/><text class="tp" x="485" y="-20.4">=132</text><use href="#tq" x="720"/><text class="tp" x="725" y="-20.4">=133</text>
<text class="s" x="238.5" y="76">225</text><text class="c" x="238.5" y="89.3">79963</text><text class="p" x="238.5" y="102.6">49.64%</text>
<text class="s" x="478.5" y="76">168</text><text class="c" x="478.5" y="89.3">81979</text><text class="p" x="478.5" y="102.6">37.14%</text>
<text class="s" x="718.5" y="76">168</text><text class="c" x="718.5" y="89.3">83995</text><text class="p" x="718.5" y="102.6">24.64%</text>
<text class="s" x="958.5" y="76">168</text><text class="c" x="958.5" y="89.3">86011</text><text class="p" x="958.5" y="102.6">12.14%</text></g>
<use href="#staff"/>
<rect class="G" x="240" y="-3.5" width="44.7" height="7"/><rect class="G" x="330" y="-3.5" width="44.1" height="7"/><rect class="R" x="480" y="11.5" width="44.4" height="7"/><rect class="R" x="570" y="11.5" width="44.4" height="7"/><rect class="Y" x="720" y="26.5" width="44.7" height="7"/><rect class="Y" x="810" y="26.5" width="44.7" height="7"/>
<circle class="R" cx="0" cy="15" r="5.2"/><circle class="R" cx="30" cy="15" r="5.2"/><circle class="O" cx="60" cy="60" r="5.2"/><circle class="B" cx="90" cy="45" r="5.2"/><circle class="Y" cx="120" cy="30" r="5.2"/><circle class="O" cx="150" cy="60" r="5.2"/><circle class="G" cx="180" cy="0" r="5.2"/><circle class="G" cx="195" cy="0" r="5.2"/><circle class="R" cx="210" cy="15" r="5.2"/>
<circle class="G" cx="240" cy="0" r="5.2"/><circle class="G" cx="300" cy="0" r="5.2"/><circle class="G" cx="330" cy="0" r="5.2"/><circle class="G" cx="390" cy="0" r="5.2"/><circle class="G" cx="420" cy="0" r="5.2"/><circle class="G" cx="450" cy="0" r="5.2"/>
<circle class="R" cx="480" cy="15" r="5.2"/><circle class="R" cx="540" cy="15" r="5.2"/><circle class="R" cx="570" cy="15" r="5.2"/><circle class="R" cx="630" cy="15" r="5.2"/><circle class="R" cx="660" cy="15" r="5.2"/><circle class="R" cx="690" cy="15" r="5.2"/>
<circle class="Y" cx="720" cy="30" r="5.2"/><circle class="O" cx="780" cy="60" r="5.2"/><circle class="Y" cx="810" cy="30" r="5.2"/><circle class="Y" cx="870" cy="30" r="5.2"/><circle class="Y" cx="900" cy="30" r="5.2"/><circle class="R" cx="930" cy="15" r="5.2"/>
<rect class="ob" x="0" y="0" width="960" height="60"/>
</g>

<g id="r22" transform="translate(31.5,3166.7)">
<rect class="fy" x="720" y="-10.3" width="180" height="81.3"/>
<g class="l"><text class="mn" x="0" y="-7.6">85</text><text class="mn" x="240" y="-7.6">86</text><text class="mn" x="480" y="-7.6">87</text><text class="mn" x="720" y="-7.6">88</text>
<use href="#tq" x="0"/><text class="tp" x="5" y="-20.4">=134</text><use href="#tq" x="240"/><text class="tp" x="245" y="-20.4">=135</text><use href="#tq" x="480"/><text class="tp" x="485" y="-20.4">=135</text><use href="#tq" x="720"/><text class="tp" x="725" y="-20.4">=134</text>
<text class="s" x="238.5" y="76">168</text><text class="c" x="238.5" y="89.3">88027</text><text class="p" x="238.5" y="102.6">0.00%</text>
<text class="s" x="478.5" y="76">168</text><text class="c" x="478.5" y="89.3">89185</text><text class="p" x="478.5" y="102.6">0.00%</text>
<text class="s" x="718.5" y="76">184</text><text class="c" x="718.5" y="89.3">90289</text><text class="p" x="718.5" y="102.6">0.00%</text>
<text class="s" x="958.5" y="76">168</text><text class="c" x="958.5" y="89.3">91297</text><text class="p" x="958.5" y="102.6">30.10%</text></g>
<use href="#staff"/>
<rect class="B" x="0" y="41.5" width="43.8" height="7"/><rect class="B" x="90" y="41.5" width="43.8" height="7"/><rect class="G" x="240" y="-3.5" width="44.7" height="7"/><rect class="G" x="330" y="-3.5" width="44.1" height="7"/><rect class="R" x="570" y="11.5" width="44.4" height="7"/><rect class="Y" x="720" y="26.5" width="44.7" height="7"/><rect class="Y" x="810" y="26.5" width="44.7" height="7"/>
<circle class="B" cx="0" cy="45" r="5.2"/><circle class="Y" cx="60" cy="30" r="5.2"/><circle class="B" cx="90" cy="45" r="5.2"/><circle class="Y" cx="150" cy="30" r="5.2"/><circle class="B" cx="180" cy="45" r="5.2"/><circle class="R" cx="210" cy="15" r="5.2"/>
<circle class="G" cx="240" cy="0" r="5.2"/><circle class="G" cx="300" cy="0" r="5.2"/><circle class="G" cx="330" cy="0" r="5.2"/><circle class="G" cx="390" cy="0" r="5.2"/><circle class="G" cx="420" cy="0" r="5.2"/><circle class="G" cx="450" cy="0" r="5.2"/>
<circle class="R" cx="480" cy="15" r="5.2"/><circle class="R" cx="510" cy="15" r="5.2"/><circle class="R" cx="540" cy="15" r="5.2"/><circle class="R" cx="570" cy="15" r="5.2"/><circle class="R" cx="630" cy="15" r="5.2"/><circle class="R" cx="660" cy="15" r="5.2"/><circle class="R" cx="690" cy="15" r="5.2"/>
<use href="#st" class="st Y" x="720" y="30"/><use href="#st" class="st R" x="780" y="15"/><use href="#st" class="st Y" x="810" y="30"/><use href="#st" class="st Y" x="870" y="30"/><use href="#st" class="st Y" x="900" y="30"/>
<circle class="R" cx="930" cy="15" r="5.2"/>
<rect class="ob" x="0" y="0" width="232.5" height="60"/><rect class="or" x="232.5" y="0" width="7.5" height="60"/><rect class="og" x="720" y="0" width="180" height="60"/>
</g>

<g id="r23" transform="translate(31.5,3307.7)">
<g class="l"><text class="mn" x="0" y="-7.6">89</text><text class="mn" x="240" y="-7.6">90</text><text class="mn" x="480" y="-7.6">91</text><text class="mn" x="720" y="-7.6">92</text>
<use href="#tq" x="0"/><text class="tp" x="5" y="-20.4">=139</text><use href="#tq" x="240"/><text class="tp" x="245" y="-20.4">=138</text><use href="#tq" x="480"/><text class="tp" x="485" y="-20.4">=137</text><use href="#tq" x="720"/><text class="tp" x="725" y="-20.4">=137</text>
<text class="s" x="238.5" y="76">143</text><text class="c" x="238.5" y="89.3">92155</text><text class="p" x="238.5" y="102.6">30.08%</text>
<text class="s" x="478.5" y="76">234</text><text class="c" x="478.5" y="89.3">94963</text><text class="p" x="478.5" y="102.6">17.58%</text>
<text class="s" x="718.5" y="76">184</text><text class="c" x="718.5" y="89.3">97171</text><text class="p" x="718.5" y="102.6">5.08%</text>
<text class="s" x="958.5" y="76">184</text><text class="c" x="958.5" y="89.3">99379</text><text class="p" x="958.5" y="102.6">0.00%</text></g>
<use href="#staff"/>
<rect class="O" x="30" y="56.5" width="43.8" height="7"/><rect class="Y" x="90" y="26.5" width="43.8" height="7"/><rect class="Y" x="420" y="26.5" width="44.4" height="7"/><rect class="B" x="570" y="41.5" width="44.4" height="7"/><rect class="O" x="810" y="56.5" width="44.7" height="7"/>
<circle class="B" cx="0" cy="45" r="5.2"/><circle class="O" cx="30" cy="60" r="5.2"/><circle class="Y" cx="90" cy="30" r="5.2"/><circle class="B" cx="150" cy="45" r="5.2"/><circle class="B" cx="195" cy="45" r="5.2"/>
<circle class="B" cx="240" cy="45" r="5.2"/><circle class="O" cx="254.7" cy="60" r="5.2"/><circle class="O" cx="270" cy="60" r="5.2"/><circle class="B" cx="300" cy="45" r="5.2"/><circle class="O" cx="307" cy="60" r="5.2"/><circle class="O" cx="330" cy="60" r="5.2"/><circle class="O" cx="360" cy="60" r="5.2"/><circle class="B" cx="390" cy="45" r="5.2"/><circle class="Y" cx="420" cy="30" r="5.2"/>
<circle class="R" cx="480" cy="15" r="5.2"/><circle class="R" cx="510" cy="15" r="5.2"/><circle class="R" cx="540" cy="15" r="5.2"/><circle class="B" cx="570" cy="45" r="5.2"/><circle class="R" cx="630" cy="15" r="5.2"/><circle class="R" cx="660" cy="15" r="5.2"/><circle class="R" cx="690" cy="15" r="5.2"/>
<circle class="Y" cx="720" cy="30" r="5.2"/><circle class="Y" cx="750" cy="30" r="5.2"/><circle class="Y" cx="780" cy="30" r="5.2"/><circle class="O" cx="810" cy="60" r="5.2"/><circle class="Y" cx="870" cy="30" r="5.2"/><circle class="Y" cx="900" cy="30" r="5.2"/><circle class="R" cx="930" cy="15" r="5.2"/>
<rect class="ob" x="240" y="0" width="720" height="60"/>
</g>

<g id="r24" transform="translate(31.5,3448.7)">
<rect class="fy" x="720" y="-10.3" width="210" height="81.3"/>
<g class="l"><text class="mn" x="0" y="-7.6">93</text><text class="mn" x="240" y="-7.6">94</text><text class="mn" x="480" y="-7.6">95</text><text class="mn" x="720" y="-7.6">96</text>
<use href="#tq" x="0"/><text class="tp" x="5" y="-20.4">=138</text><use href="#tq" x="240"/><text class="tp" x="245" y="-20.4">=136</text><use href="#tq" x="480"/><text class="tp" x="485" y="-20.4">=136</text><use href="#tq" x="720"/><text class="tp" x="725" y="-20.4">=138</text>
<text class="s" x="238.5" y="76">184</text><text class="c" x="238.5" y="89.3">101587</text><text class="p" x="238.5" y="102.6">0.00%</text>
<text class="s" x="478.5" y="76">200</text><text class="c" x="478.5" y="89.3">103387</text><text class="p" x="478.5" y="102.6">0.00%</text>
<text class="s" x="718.5" y="76">184</text><text class="c" x="718.5" y="89.3">104491</text><text class="p" x="718.5" y="102.6">0.00%</text>
<text class="s" x="958.5" y="76">184</text><text class="c" x="958.5" y="89.3">105595</text><text class="p" x="958.5" y="102.6">27.55%</text></g>
<use href="#staff"/>
<rect class="B" x="90" y="41.5" width="43.8" height="7"/><rect class="R" x="570" y="11.5" width="44.4" height="7"/><rect class="O" x="810" y="56.5" width="44.7" height="7"/>
<circle class="B" cx="0" cy="45" r="5.2"/><circle class="B" cx="30" cy="45" r="5.2"/><circle class="B" cx="60" cy="45" r="5.2"/><circle class="B" cx="90" cy="45" r="5.2"/><circle class="Y" cx="150" cy="30" r="5.2"/><circle class="B" cx="180" cy="45" r="5.2"/><circle class="R" cx="210" cy="15" r="5.2"/>
<circle class="G" cx="240" cy="0" r="5.2"/><circle class="G" cx="270" cy="0" r="5.2"/><circle class="G" cx="300" cy="0" r="5.2"/><circle class="G" cx="330" cy="0" r="5.2"/><circle class="G" cx="360" cy="0" r="5.2"/><circle class="G" cx="390" cy="0" r="5.2"/><circle class="G" cx="420" cy="0" r="5.2"/><circle class="G" cx="450" cy="0" r="5.2"/>
<circle class="R" cx="480" cy="15" r="5.2"/><circle class="R" cx="510" cy="15" r="5.2"/><circle class="R" cx="540" cy="15" r="5.2"/><circle class="R" cx="570" cy="15" r="5.2"/><circle class="R" cx="630" cy="15" r="5.2"/><circle class="R" cx="660" cy="15" r="5.2"/><circle class="R" cx="690" cy="15" r="5.2"/>
<use href="#st" class="st Y" x="720" y="30"/><use href="#st" class="st Y" x="750" y="30"/><use href="#st" class="st Y" x="780" y="30"/><use href="#st" class="st O" x="810" y="60"/><use href="#st" class="st Y" x="870" y="30"/><use href="#st" class="st Y" x="900" y="30"/><use href="#st" class="st R" x="930" y="15"/>
<rect class="ob" x="0" y="0" width="336" height="60"/><rect class="og" x="720" y="0" width="210" height="60"/>
</g>

<g id="r25" transform="translate(31.5,3589.7)">
<g class="l"><text class="mn" x="0" y="-7.6">97</text><text class="mn" x="240" y="-7.6">98</text><text class="mn" x="480" y="-7.6">99</text><text class="mn" x="720" y="-7.6">100</text>
<use href="#tq" x="0"/><text class="tp" x="5" y="-20.4">=141</text><use href="#tq" x="240"/><text class="tp" x="245" y="-20.4">=136</text><use href="#tq" x="480"/><text class="tp" x="485" y="-20.4">=136</text><use href="#tq" x="720"/><text class="tp" x="725" y="-20.4">=138</text>
<text class="s" x="238.5" y="76">233</text><text class="c" x="238.5" y="89.3">106993</text><text class="p" x="238.5" y="102.6">27.55%</text>
<text class="s" x="478.5" y="76">200</text><text class="c" x="478.5" y="89.3">108193</text><text class="p" x="478.5" y="102.6">27.55%</text>
<text class="s" x="718.5" y="76">200</text><text class="c" x="718.5" y="89.3">109393</text><text class="p" x="718.5" y="102.6">27.55%</text>
<text class="s" x="958.5" y="76">200</text><text class="c" x="958.5" y="89.3">110593</text><text class="p" x="958.5" y="102.6">27.55%</text></g>
<use href="#staff"/>
<rect class="B" x="81" y="41.5" width="38.4" height="7"/>
<circle class="B" cx="0" cy="45" r="5.2"/><circle class="B" cx="40.5" cy="45" r="5.2"/><circle class="B" cx="60" cy="45" r="5.2"/><circle class="B" cx="81" cy="45" r="5.2"/><circle class="B" cx="135" cy="45" r="5.2"/><circle class="B" cx="150" cy="45" r="5.2"/><circle class="B" cx="165" cy="45" r="5.2"/><circle class="B" cx="198.6" cy="45" r="5.2"/><circle class="B" cx="220.2" cy="45" r="5.2"/>
<circle class="G" cx="240" cy="0" r="5.2"/><circle class="G" cx="270" cy="0" r="5.2"/><circle class="G" cx="300" cy="0" r="5.2"/><circle class="G" cx="330" cy="0" r="5.2"/><circle class="G" cx="360" cy="0" r="5.2"/><circle class="G" cx="390" cy="0" r="5.2"/><circle class="G" cx="420" cy="0" r="5.2"/><circle class="G" cx="450" cy="0" r="5.2"/>
<circle class="R" cx="480" cy="15" r="5.2"/><circle class="R" cx="510" cy="15" r="5.2"/><circle class="R" cx="540" cy="15" r="5.2"/><circle class="R" cx="570" cy="15" r="5.2"/><circle class="R" cx="600" cy="15" r="5.2"/><circle class="R" cx="630" cy="15" r="5.2"/><circle class="R" cx="660" cy="15" r="5.2"/><circle class="R" cx="690" cy="15" r="5.2"/>
<circle class="Y" cx="720" cy="30" r="5.2"/><circle class="Y" cx="750" cy="30" r="5.2"/><circle class="Y" cx="780" cy="30" r="5.2"/><circle class="Y" cx="810" cy="30" r="5.2"/><circle class="Y" cx="840" cy="30" r="5.2"/><circle class="Y" cx="870" cy="30" r="5.2"/><circle class="Y" cx="900" cy="30" r="5.2"/><circle class="Y" cx="930" cy="30" r="5.2"/>
</g>

<g id="r26" transform="translate(31.5,3730.7)">
<g class="l"><text class="mn" x="0" y="-7.6">101</text><text class="mn" x="240" y="-7.6">102</text><text class="mn" x="480" y="-7.6">103</text><text class="mn" x="720" y="-7.6">104</text>
<use href="#tq" x="0"/><text class="tp" x="5" y="-20.4">=139</text><use href="#tq" x="240"/><text class="tp" x="245" y="-20.4">=135</text><use href="#tq" x="480"/><text class="tp" x="485" y="-20.4">=136</text><use href="#tq" x="720"/><text class="tp" x="725" y="-20.4">=139</text>
<text class="s" x="238.5" y="76">124</text><text class="c" x="238.5" y="89.3">111337</text><text class="p" x="238.5" y="102.6">27.55%</text>
<text class="s" x="478.5" y="76">200</text><text class="c" x="478.5" y="89.3">112537</text><text class="p" x="478.5" y="102.6">27.55%</text>
<text class="s" x="718.5" y="76">200</text><text class="c" x="718.5" y="89.3">113737</text><text class="p" x="718.5" y="102.6">27.55%</text>
<text class="s" x="958.5" y="76">200</text><text class="c" x="958.5" y="89.3">114937</text><text class="p" x="958.5" y="102.6">27.55%</text></g>
<use href="#staff"/>
<rect class="B" x="0" y="41.5" width="73.8" height="7"/><rect class="B" x="90" y="41.5" width="43.8" height="7"/>
<circle class="B" cx="0" cy="45" r="5.2"/><circle class="B" cx="90" cy="45" r="5.2"/><circle class="B" cx="150" cy="45" r="5.2"/><circle class="B" cx="195" cy="45" r="5.2"/>
<circle class="G" cx="240" cy="0" r="5.2"/><circle class="G" cx="270" cy="0" r="5.2"/><circle class="G" cx="300" cy="0" r="5.2"/><circle class="G" cx="330" cy="0" r="5.2"/><circle class="G" cx="360" cy="0" r="5.2"/><circle class="G" cx="390" cy="0" r="5.2"/><circle class="G" cx="420" cy="0" r="5.2"/><circle class="G" cx="450" cy="0" r="5.2"/>
<circle class="R" cx="480" cy="15" r="5.2"/><circle class="R" cx="510" cy="15" r="5.2"/><circle class="R" cx="540" cy="15" r="5.2"/><circle class="R" cx="570" cy="15" r="5.2"/><circle class="R" cx="600" cy="15" r="5.2"/><circle class="R" cx="630" cy="15" r="5.2"/><circle class="R" cx="660" cy="15" r="5.2"/><circle class="R" cx="690" cy="15" r="5.2"/>
<circle class="Y" cx="720" cy="30" r="5.2"/><circle class="Y" cx="750" cy="30" r="5.2"/><circle class="Y" cx="780" cy="30" r="5.2"/><circle class="Y" cx="810" cy="30" r="5.2"/><circle class="Y" cx="840" cy="30" r="5.2"/><circle class="Y" cx="870" cy="30" r="5.2"/><circle class="Y" cx="900" cy="30" r="5.2"/><circle class="B" cx="930" cy="45" r="5.2"/>
</g>

<g id="r27" transform="translate(31.5,3871.7)">
<g class="l"><text class="mn" x="0" y="-7.6">105</text><text class="mn" x="240" y="-7.6">106</text><text class="mn" x="480" y="-7.6">107</text><text class="mn" x="720" y="-7.6">108</text>
<use href="#tq" x="0"/><text class="tp" x="5" y="-20.4">=143</text><use href="#tq" x="240"/><text class="tp" x="245" y="-20.4">=136</text><use href="#tq" x="480"/><text class="tp" x="485" y="-20.4">=135</text><use href="#tq" x="720"/><text class="tp" x="725" y="-20.4">=138</text>
<text class="s" x="238.5" y="76">248</text><text class="c" x="238.5" y="89.3">117433</text><text class="p" x="238.5" y="102.6">20.01%</text>
<text class="s" x="478.5" y="76">200</text><text class="c" x="478.5" y="89.3">119833</text><text class="p" x="478.5" y="102.6">7.51%</text>
<text class="s" x="718.5" y="76">200</text><text class="c" x="718.5" y="89.3">122233</text><text class="p" x="718.5" y="102.6">0.00%</text>
<text class="s" x="958.5" y="76">200</text><text class="c" x="958.5" y="89.3">124633</text><text class="p" x="958.5" y="102.6">0.00%</text></g>
<use href="#staff"/>
<rect class="B" x="0" y="41.5" width="73.8" height="7"/><rect class="O" x="0" y="56.5" width="73.8" height="7"/><rect class="B" x="90" y="41.5" width="43.8" height="7"/><rect class="O" x="90" y="56.5" width="43.8" height="7"/>
<circle class="B" cx="0" cy="45" r="5.2"/><circle class="O" cx="0" cy="60" r="5.2"/><circle class="B" cx="90" cy="45" r="5.2"/><circle class="O" cx="90" cy="60" r="5.2"/><circle class="B" cx="150" cy="45" r="5.2"/><circle class="O" cx="150" cy="60" r="5.2"/><circle class="B" cx="195" cy="45" r="5.2"/><circle class="O" cx="195" cy="60" r="5.2"/>
<circle class="G" cx="240" cy="0" r="5.2"/><circle class="G" cx="270" cy="0" r="5.2"/><circle class="G" cx="300" cy="0" r="5.2"/><circle class="G" cx="330" cy="0" r="5.2"/><circle class="G" cx="360" cy="0" r="5.2"/><circle class="G" cx="390" cy="0" r="5.2"/><circle class="G" cx="420" cy="0" r="5.2"/><circle class="G" cx="450" cy="0" r="5.2"/>
<circle class="R" cx="480" cy="15" r="5.2"/><circle class="R" cx="510" cy="15" r="5.2"/><circle class="R" cx="540" cy="15" r="5.2"/><circle class="R" cx="570" cy="15" r="5.2"/><circle class="R" cx="600" cy="15" r="5.2"/><circle class="R" cx="630" cy="15" r="5.2"/><circle class="R" cx="660" cy="15" r="5.2"/><circle class="R" cx="690" cy="15" r="5.2"/>
<circle class="Y" cx="720" cy="30" r="5.2"/><circle class="Y" cx="750" cy="30" r="5.2"/><circle class="Y" cx="780" cy="30" r="5.2"/><circle class="Y" cx="810" cy="30" r="5.2"/><circle class="Y" cx="840" cy="30" r="5.2"/><circle class="Y" cx="870" cy="30" r="5.2"/><circle class="Y" cx="900" cy="30" r="5.2"/><circle class="B" cx="930" cy="45" r="5.2"/>
<rect class="or" x="90" y="0" width="4.8" height="60"/><rect class="ob" x="94.8" y="0" width="865.2" height="60"/>
</g>

<g id="r28" transform="translate(31.5,4012.7)">
<g class="l"><text class="mn" x="0" y="-7.6">109</text><text class="mn" x="240" y="-7.6">110</text><text class="mn" x="480" y="-7.6">111</text><text class="mn" x="720" y="-7.6">112</text>
<use href="#tq" x="0"/><text class="tp" x="5" y="-20.4">=139</text><use href="#tq" x="240"/><text class="tp" x="245" y="-20.4">=137</text><use href="#tq" x="480"/><text class="tp" x="485" y="-20.4">=137</text><use href="#tq" x="720"/><text class="tp" x="725" y="-20.4">=139</text><use href="#tq" x="843"/><text class="tp" x="848" y="-20.4">=136</text><use href="#tq" x="904.5"/><text class="tp" x="909.5" y="-20.4">=126</text>
<text class="s" x="238.5" y="76">266</text><text class="c" x="238.5" y="89.3">127417</text><text class="p" x="238.5" y="102.6">0.00%</text>
<text class="s" x="478.5" y="76">200</text><text class="c" x="478.5" y="89.3">128617</text><text class="p" x="478.5" y="102.6">0.00%</text>
<text class="s" x="718.5" y="76">200</text><text class="c" x="718.5" y="89.3">129817</text><text class="p" x="718.5" y="102.6">0.00%</text>
<text class="s" x="958.5" y="76">225</text><text class="c" x="958.5" y="89.3">131167</text><text class="p" x="958.5" y="102.6">0.00%</text></g>
<use href="#staff"/>
<rect class="B" x="0" y="41.5" width="73.8" height="7"/><rect class="O" x="0" y="56.5" width="73.8" height="7"/><rect class="B" x="90" y="41.5" width="43.8" height="7"/><rect class="O" x="90" y="56.5" width="43.8" height="7"/><rect class="B" x="180" y="41.5" width="44.1" height="7"/><rect class="O" x="180" y="56.5" width="44.1" height="7"/>
<circle class="B" cx="0" cy="45" r="5.2"/><circle class="O" cx="0" cy="60" r="5.2"/><circle class="B" cx="90" cy="45" r="5.2"/><circle class="O" cx="90" cy="60" r="5.2"/><circle class="B" cx="150" cy="45" r="5.2"/><circle class="O" cx="150" cy="60" r="5.2"/><circle class="B" cx="180" cy="45" r="5.2"/><circle class="O" cx="180" cy="60" r="5.2"/>
<circle class="G" cx="240" cy="0" r="5.2"/><circle class="G" cx="270" cy="0" r="5.2"/><circle class="G" cx="300" cy="0" r="5.2"/><circle class="G" cx="330" cy="0" r="5.2"/><circle class="G" cx="360" cy="0" r="5.2"/><circle class="G" cx="390" cy="0" r="5.2"/><circle class="G" cx="420" cy="0" r="5.2"/><circle class="G" cx="450" cy="0" r="5.2"/>
<circle class="R" cx="480" cy="15" r="5.2"/><circle class="R" cx="510" cy="15" r="5.2"/><circle class="R" cx="540" cy="15" r="5.2"/><circle class="R" cx="570" cy="15" r="5.2"/><circle class="R" cx="600" cy="15" r="5.2"/><circle class="R" cx="630" cy="15" r="5.2"/><circle class="R" cx="660" cy="15" r="5.2"/><circle class="R" cx="690" cy="15" r="5.2"/>
<circle class="Y" cx="720" cy="30" r="5.2"/><circle class="Y" cx="750" cy="30" r="5.2"/><circle class="Y" cx="780" cy="30" r="5.2"/><circle class="Y" cx="810" cy="30" r="5.2"/><circle class="Y" cx="840" cy="30" r="5.2"/><circle class="Y" cx="870" cy="30" r="5.2"/><circle class="Y" cx="900" cy="30" r="5.2"/><circle class="Y" cx="919.5" cy="30" r="5.2"/><circle class="Y" cx="939.6" cy="30" r="5.2"/>
<rect class="ob" x="0" y="0" width="143.7" height="60"/><rect class="or" x="143.7" y="0" width="5.8" height="60"/>
</g>

<g id="r29" transform="translate(31.5,4153.7)">
<g class="l"><text class="mn" x="0" y="-7.6">113</text><text class="mn" x="240" y="-7.6">114</text><text class="mn" x="480" y="-7.6">115</text><text class="mn" x="720" y="-7.6">116</text>
<use href="#tq" x="0"/><text class="tp" x="5" y="-20.4">=131</text><use href="#tq" x="240"/><text class="tp" x="245" y="-20.4">=121</text><use href="#tq" x="363.6"/><text class="tp" x="368.6" y="-20.4">=114</text><use href="#tq" x="424"/><text class="tp" x="429" y="-20.4">=120</text>
<text class="s" x="238.5" y="76">73</text><text class="c" x="238.5" y="89.3">131605</text><text class="p" x="238.5" y="102.6">0.00%</text>
<text class="s" x="478.5" y="76">64</text><text class="c" x="478.5" y="89.3">131989</text><text class="p" x="478.5" y="102.6">0.00%</text>
<text class="s" x="718.5" y="76">73</text><text class="c" x="718.5" y="89.3">132427</text><text class="p" x="718.5" y="102.6">0.00%</text>
<text class="s" x="958.5" y="76">64</text><text class="c" x="958.5" y="89.3">132811</text><text class="p" x="958.5" y="102.6">0.00%</text></g>
<use href="#staff"/>
<rect class="B" x="0" y="41.5" width="434.4" height="7"/><rect class="G" x="480" y="-3.5" width="435" height="7"/>
<circle class="B" cx="0" cy="45" r="5.2"/><circle class="O" cx="450" cy="60" r="5.2"/><circle class="G" cx="480" cy="0" r="5.2"/><circle class="R" cx="930" cy="15" r="5.2"/>
</g>

<g id="r30" transform="translate(31.5,4294.7)">
<g class="l"><text class="mn" x="0" y="-7.6">117</text><text class="mn" x="240" y="-7.6">118</text><text class="mn" x="480" y="-7.6">119</text><text class="mn" x="720" y="-7.6">120</text>
<text class="s" x="238.5" y="76">136</text><text class="c" x="238.5" y="89.3">133627</text><text class="p" x="238.5" y="102.6">0.00%</text>
<text class="s" x="478.5" y="76">48</text><text class="c" x="478.5" y="89.3">133915</text><text class="p" x="478.5" y="102.6">0.00%</text>
<text class="s" x="718.5" y="76">48</text><text class="c" x="718.5" y="89.3">134203</text><text class="p" x="718.5" y="102.6">0.00%</text>
<text class="s" x="958.5" y="76">48</text><text class="c" x="958.5" y="89.3">134491</text><text class="p" x="958.5" y="102.6">0.00%</text></g>
<use href="#staff"/>
<rect class="R" x="30" y="11.5" width="103.8" height="7"/><rect class="B" x="150" y="41.5" width="43.8" height="7"/><rect class="O" x="210" y="56.5" width="748.5" height="7"/>
<circle class="Y" cx="0" cy="30" r="5.2"/><circle class="R" cx="30" cy="15" r="5.2"/><circle class="B" cx="150" cy="45" r="5.2"/><circle class="O" cx="210" cy="60" r="5.2"/>
</g>
</g>
</svg>
